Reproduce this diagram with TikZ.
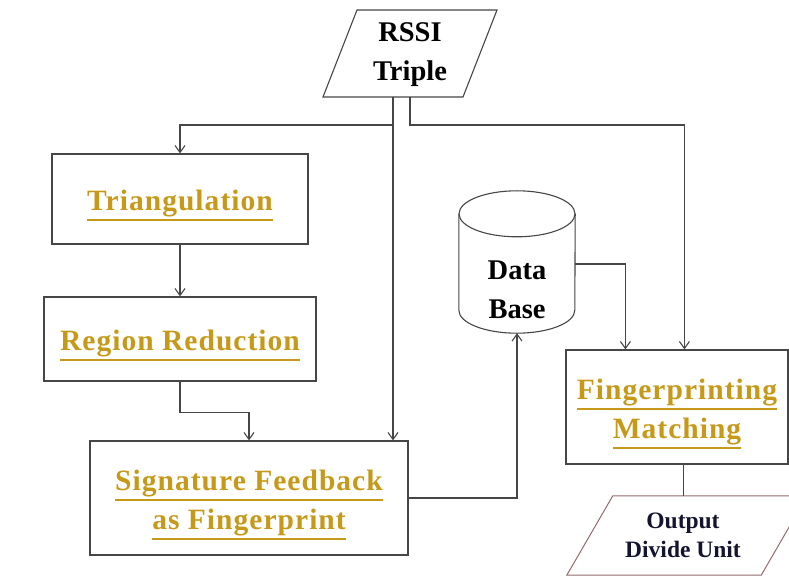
\documentclass[tikz,border=0pt]{standalone}
\usepackage{fontspec}
\setmainfont{Liberation Serif}
\usetikzlibrary{arrows.meta,calc}
\definecolor{goldtxt}{RGB}{198,153,24}
\definecolor{edge}{RGB}{70,70,70}
\definecolor{navytxt}{RGB}{20,20,45}
\newcommand\gu[1]{\setbox0\hbox{#1}\rlap{\smash{\color{goldtxt}\rule[-10.5pt]{\wd0}{2.2pt}}}\box0}
\newcommand\lowstrut{\rule{0pt}{30pt}}
\tikzset{
  box/.style={draw=edge, line width=1.2pt, rectangle, fill=white, inner sep=0pt},
  goldfont/.style={text=goldtxt, font=\fontsize{29.5}{39}\selectfont\bfseries\addfontfeature{LetterSpace=3.5}, align=center},
  blackfont/.style={text=black, font=\fontsize{28.5}{39}\selectfont\bfseries, align=center},
  conn/.style={draw=edge, line width=1.1pt},
  arr/.style={conn, -{Straight Barb[length=7pt,width=10pt,line width=1.1pt]}},
  ghost/.style={draw=none, rectangle, inner sep=0pt}
}
\begin{document}
\begin{tikzpicture}[x=1pt, y=-1pt]
\useasboundingbox (0,0) rectangle (789,577);
\clip (0,0) rectangle (789,577);
\fill[white] (0,0) rectangle (789,577);

% RSSI parallelogram
\node[ghost, blackfont, minimum width=140pt, minimum height=87pt] (rssi) at (410,55) {RSSI\\Triple};
\draw[edge, line width=1.1pt] (357,10) -- (497,10) -- (463,97) -- (323,97) -- cycle;
\coordinate (rl) at (393,97);
\coordinate (rr) at (410,97);

% boxes
\node[box, goldfont, minimum width=256pt, minimum height=90pt] (tri) at (180,199) {\lowstrut\gu{Triangulation}};
\node[box, goldfont, minimum width=272pt, minimum height=84pt] (reg) at (180,339) {\lowstrut\gu{Region Reduction}};
\node[box, goldfont, minimum width=318pt, minimum height=114pt] (sig) at (249,498) {\lowstrut\gu{Signature Feedback}\\\gu{as Fingerprint}};
\node[box, goldfont, minimum width=222pt, minimum height=114pt] (fp) at (677,407) {\lowstrut\gu{Fingerprinting}\\\gu{Matching}};

% database cylinder
\node[ghost, minimum width=116pt, minimum height=142pt] (db) at (517,262) {};
\draw[edge, line width=1.1pt, fill=white]
  ($(db.north west)+(0,23)$) -- ($(db.south west)+(0,-23)$)
  arc[start angle=180, end angle=360, x radius=58pt, y radius=23pt]
  -- ($(db.north east)+(0,23)$);
\draw[edge, line width=1.1pt] ($(db.north)+(0,23)$) ellipse[x radius=58pt, y radius=23pt];
\node[blackfont] (dbl) at (517,290) {Data\\Base};

% output parallelogram
\node[ghost, minimum width=194pt, minimum height=79pt] (out) at (687,535.5) {};
\draw[draw=gray!85!red, line width=1pt] ([xshift=23pt]out.north west) -- ([xshift=23pt]out.north east)
  -- ([xshift=-23pt]out.south east) -- ([xshift=-23pt]out.south west) -- cycle;
\node[text=navytxt, font=\fontsize{23.5}{29}\selectfont\bfseries, align=center] (outl) at (683,535) {Output\\Divide Unit};

% connectors
\draw[arr] (rl) -- ++(0,28) -| (tri.north);
\draw[arr] (rl) -- (rl |- sig.north);
\draw[arr] (rr) -- ++(0,28) -| ([xshift=119pt]fp.north west);
\draw[arr] (tri.south) -- (reg.north);
\draw[arr] (reg.south) -- ++(0,31) -| (sig.north);
\draw[arr] (sig.east) -| (db.south);
\draw[arr] ([yshift=-2pt]db.east) -| ([xshift=60pt]fp.north west);
\draw[conn] ([xshift=118pt]fp.south west) -- ([xshift=118pt]fp.south west |- out.north);
\end{tikzpicture}
\end{document}
